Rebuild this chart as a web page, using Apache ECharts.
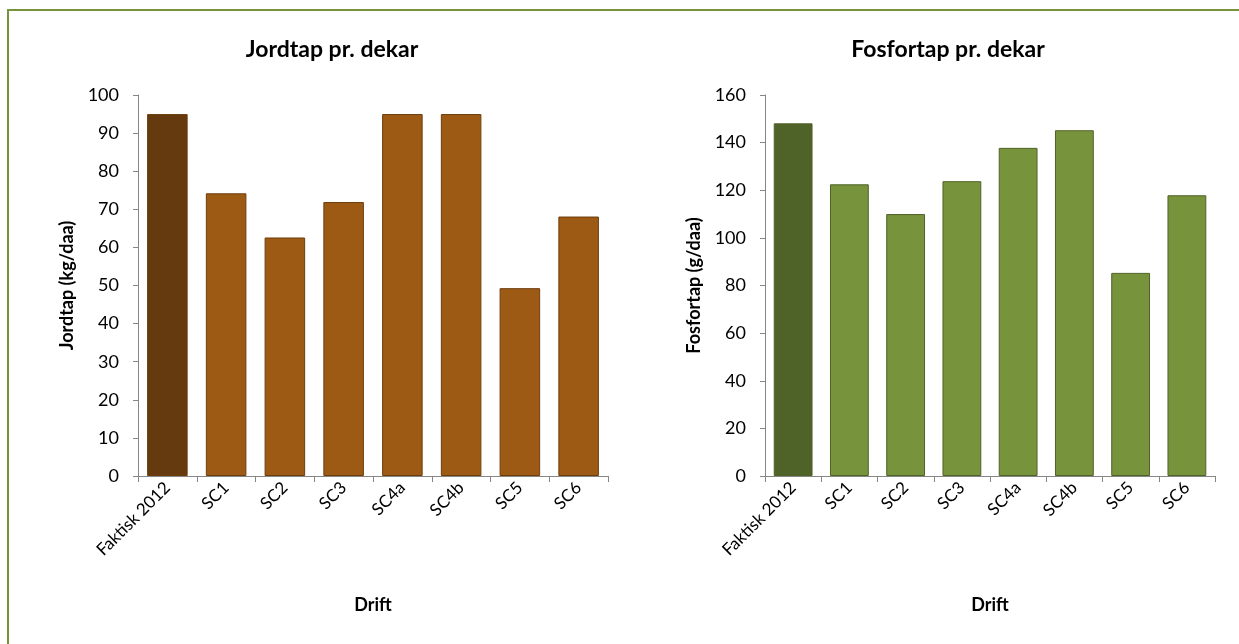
<!DOCTYPE html>
<html>
<head>
<meta charset="utf-8">
<script src="https://cdn.jsdelivr.net/npm/echarts@6/dist/echarts.min.js"></script>
<style>
html,body{margin:0;padding:0;background:#fff;}
#frame{position:absolute;left:7px;top:9px;width:1240px;height:640px;border-top:2px solid #77933C;border-left:2px solid #77933C;}
#chart{position:absolute;left:0;top:0;width:1239px;height:644px;}
</style>
</head>
<body>
<div id="frame"></div>
<div id="chart"></div>
<script>
var categories = ['Faktisk 2012','SC1','SC2','SC3','SC4a','SC4b','SC5','SC6'];
var jordtap = [95, 74.2, 62.6, 71.9, 95, 95, 49.3, 68.1];
var fosfortap = [148.1, 122.5, 110.0, 123.8, 137.8, 145.2, 85.3, 117.9];
var jordTicks = {min:0, max:100, interval:10};
var fosforTicks = {min:0, max:160, interval:20};

var FONT = 'Lato, "Open Sans", sans-serif';
var axisLineColor = '#868686';

function dataWithFirst(vals, firstColor, color, border){
  return vals.map(function(v,i){
    return {value:v, itemStyle:{color: i===0?firstColor:color, borderColor: border, borderWidth:1}};
  });
}

function xAxis(gi){
  return {
    type:'category', gridIndex:gi, data:categories,
    boundaryGap:true,
    axisLine:{lineStyle:{color:axisLineColor,width:1}},
    axisTick:{show:true, alignWithLabel:false, length:6, lineStyle:{color:axisLineColor}},
    axisLabel:{rotate:45, fontSize:17, color:'#000', fontFamily:FONT, margin:9, interval:0},
    name:'Drift', nameLocation:'middle', nameGap:120,
    nameTextStyle:{fontSize:18, fontWeight:'bold', color:'#000', fontFamily:FONT}
  };
}
function yAxis(gi, t, name, gap){
  return {
    type:'value', gridIndex:gi, min:t.min, max:t.max, interval:t.interval,
    splitLine:{show:false},
    axisLine:{show:true, lineStyle:{color:axisLineColor,width:1}},
    axisTick:{show:true, length:5, lineStyle:{color:axisLineColor}},
    axisLabel:{fontSize:18, color:'#000', fontFamily:FONT, margin:19},
    name:name, nameLocation:'middle', nameGap:gap, nameRotate:90,
    nameTextStyle:{fontSize:18, fontWeight:'bold', color:'#000', fontFamily:FONT}
  };
}

var chart = echarts.init(document.getElementById('chart'), null, {renderer:'canvas'});
chart.setOption({
  backgroundColor:'transparent',
  animation:false,
  title:[
    {text:'Jordtap pr. dekar', left:327, top:33, textAlign:'center',
     textStyle:{fontSize:23, fontWeight:'bold', color:'#000', fontFamily:FONT}},
    {text:'Fosfortap pr. dekar', left:943, top:33, textAlign:'center',
     textStyle:{fontSize:23, fontWeight:'bold', color:'#000', fontFamily:FONT}}
  ],
  grid:[
    {left:138, right:631, top:95, bottom:168},
    {left:765, right:24, top:95, bottom:168}
  ],
  xAxis:[xAxis(0), xAxis(1)],
  yAxis:[yAxis(0, jordTicks, 'Jordtap (kg/daa)', 62), yAxis(1, fosforTicks, 'Fosfortap (g/daa)', 62)],
  series:[
    {type:'bar', xAxisIndex:0, yAxisIndex:0, barCategoryGap:'31%',
     data:dataWithFirst(jordtap, '#643A0E', '#9C5A15', '#6E3D0C')},
    {type:'bar', xAxisIndex:1, yAxisIndex:1, barCategoryGap:'31%',
     data:dataWithFirst(fosfortap, '#4F6228', '#77933C', '#4F6228')}
  ]
});
</script>
</body>
</html>
